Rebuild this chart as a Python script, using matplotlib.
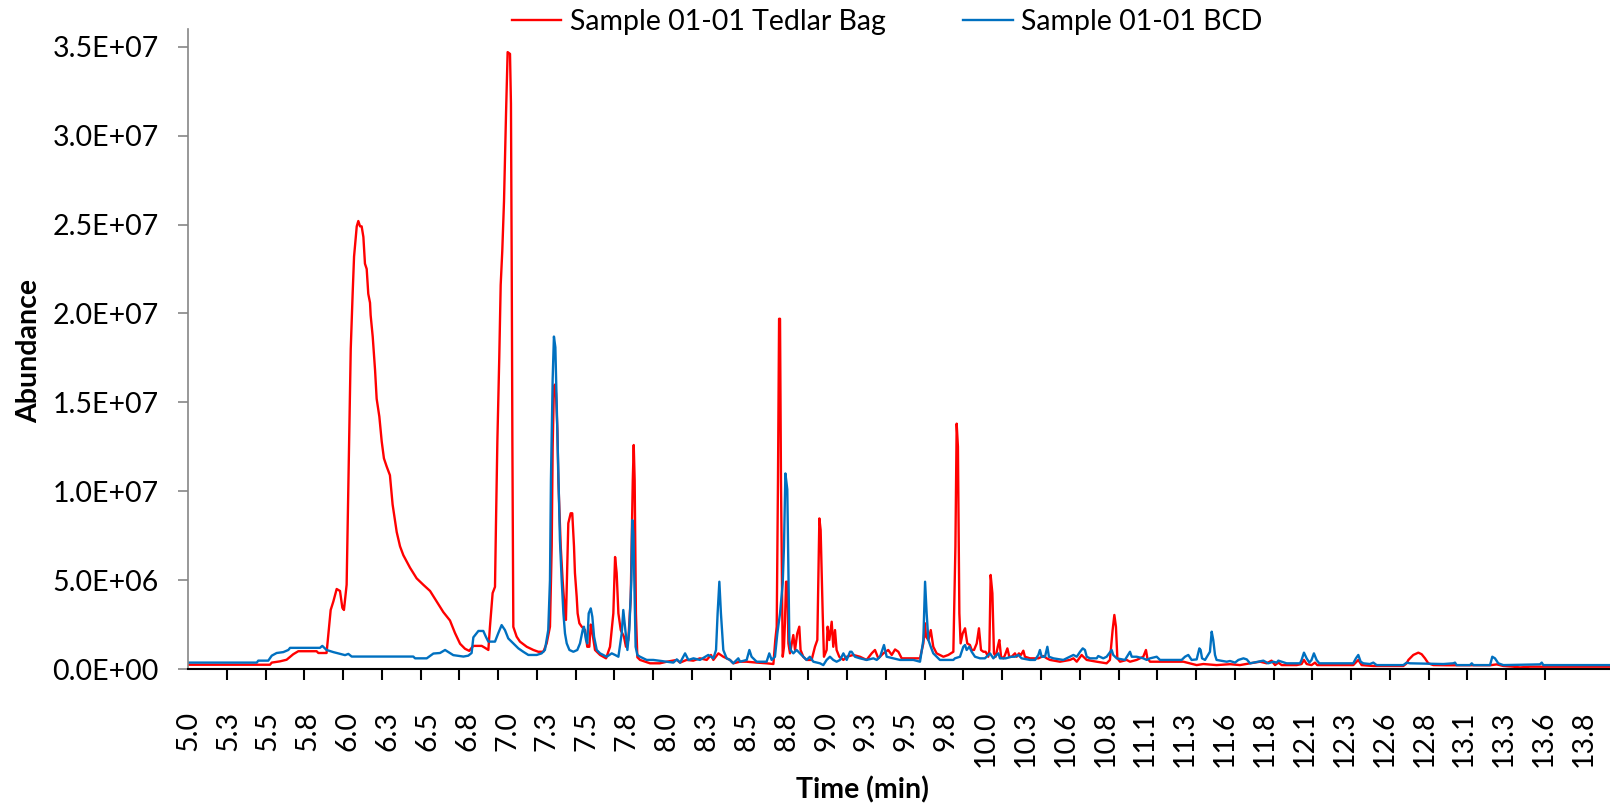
import matplotlib
matplotlib.use("Agg")
import matplotlib.pyplot as plt
from matplotlib.ticker import FixedLocator, FuncFormatter, NullFormatter
import numpy as np

plt.rcParams['font.family'] = ['Lato', 'DejaVu Sans']

# ---------------- data (time in min, abundance in millions) ----------------
red_time = [5.000, 5.519, 5.530, 5.582, 5.624, 5.666, 5.698, 5.814, 5.825, 5.877,
            5.903, 5.920, 5.941, 5.962, 5.977, 5.987, 6.004, 6.015, 6.030, 6.042,
            6.051, 6.068, 6.078, 6.089, 6.099, 6.110, 6.120, 6.131, 6.141, 6.152,
            6.156, 6.169, 6.184, 6.194, 6.211, 6.226, 6.240, 6.257, 6.278, 6.295,
            6.321, 6.342, 6.363, 6.405, 6.447, 6.489, 6.532, 6.574, 6.616, 6.658,
            6.690, 6.722, 6.753, 6.780, 6.795, 6.806, 6.859, 6.880, 6.901, 6.911,
            6.928, 6.943, 6.949, 6.958, 6.970, 6.979, 6.989, 7.000, 7.013, 7.023,
            7.038, 7.044, 7.049, 7.053, 7.059, 7.080, 7.101, 7.144, 7.186, 7.217,
            7.249, 7.270, 7.291, 7.302, 7.308, 7.316, 7.323, 7.329, 7.338, 7.344,
            7.359, 7.371, 7.386, 7.392, 7.407, 7.422, 7.432, 7.443, 7.449, 7.460,
            7.466, 7.477, 7.492, 7.513, 7.527, 7.540, 7.549, 7.560, 7.576, 7.608,
            7.646, 7.671, 7.692, 7.703, 7.713, 7.724, 7.739, 7.759, 7.772, 7.787,
            7.802, 7.815, 7.821, 7.827, 7.835, 7.844, 7.861, 7.924, 7.987, 8.030,
            8.094, 8.114, 8.156, 8.198, 8.240, 8.283, 8.310, 8.325, 8.357, 8.388,
            8.430, 8.451, 8.494, 8.536, 8.599, 8.662, 8.705, 8.717, 8.726, 8.734,
            8.741, 8.747, 8.753, 8.764, 8.772, 8.778, 8.785, 8.793, 8.800, 8.810,
            8.831, 8.842, 8.856, 8.869, 8.877, 8.894, 8.915, 8.947, 8.968, 8.983,
            8.996, 9.004, 9.017, 9.025, 9.042, 9.048, 9.059, 9.074, 9.084, 9.095,
            9.105, 9.122, 9.148, 9.169, 9.211, 9.253, 9.295, 9.327, 9.348, 9.369,
            9.401, 9.432, 9.454, 9.475, 9.496, 9.517, 9.591, 9.633, 9.654, 9.665,
            9.671, 9.686, 9.701, 9.717, 9.738, 9.781, 9.812, 9.844, 9.857, 9.865,
            9.873, 9.882, 9.890, 9.903, 9.918, 9.932, 9.949, 9.960, 9.975, 9.992,
            10.006, 10.019, 10.034, 10.048, 10.065, 10.072, 10.080, 10.091, 10.101, 10.112,
            10.125, 10.135, 10.146, 10.161, 10.171, 10.186, 10.198, 10.213, 10.234, 10.245,
            10.259, 10.272, 10.287, 10.297, 10.329, 10.382, 10.414, 10.435, 10.456, 10.519,
            10.582, 10.604, 10.625, 10.656, 10.667, 10.688, 10.751, 10.814, 10.835, 10.852,
            10.863, 10.873, 10.882, 10.899, 10.941, 10.962, 11.004, 11.046, 11.063, 11.072,
            11.089, 11.131, 11.194, 11.300, 11.384, 11.426, 11.510, 11.595, 11.658, 11.722,
            11.785, 11.827, 11.858, 11.880, 11.901, 11.922, 12.017, 12.048, 12.063, 12.080,
            12.111, 12.133, 12.147, 12.228, 12.375, 12.407, 12.428, 12.502, 12.692, 12.713,
            12.724, 12.755, 12.787, 12.808, 12.829, 12.850, 12.882, 12.966, 13.114, 13.241,
            13.283, 13.325, 13.388, 13.431, 13.494, 13.578, 14.000]
red_abund = [0.24, 0.24, 0.36, 0.43, 0.52, 0.83, 1.00, 1.00, 0.90, 0.90,
             3.32, 3.80, 4.50, 4.39, 3.44, 3.32, 4.74, 10.4, 18.0, 21.1,
             23.2, 24.9, 25.2, 24.9, 24.9, 24.3, 22.8, 22.5, 21.1, 20.6,
             19.9, 18.7, 16.8, 15.2, 14.2, 12.8, 11.85, 11.4, 10.9, 9.25,
             7.7, 6.9, 6.4, 5.7, 5.1, 4.74, 4.39, 3.8, 3.2, 2.73,
             2.02, 1.42, 1.14, 1.02, 1.19, 1.30, 1.30, 1.19, 1.07, 2.37,
             4.27, 4.62, 8.06, 12.8, 17.5, 21.6, 23.5, 26.3, 31.3, 34.7,
             34.6, 31.8, 22.3, 12.8, 2.37, 1.82, 1.54, 1.25, 1.07, 0.97,
             0.97, 1.44, 2.38, 6.9, 12.5, 15.9, 16.0, 15.5, 13.4, 10.6,
             6.9, 5.0, 3.13, 2.76, 8.2, 8.76, 8.76, 6.9, 5.4, 4.07,
             3.13, 2.57, 2.38, 2.19, 1.25, 1.25, 2.5, 2.0, 1.07, 0.79,
             0.60, 1.25, 3.13, 6.3, 5.4, 3.13, 2.19, 1.82, 1.25, 1.63,
             4.0, 10.6, 12.6, 10.6, 3.13, 0.66, 0.51, 0.32, 0.32, 0.41,
             0.51, 0.36, 0.51, 0.47, 0.60, 0.51, 0.79, 0.51, 0.88, 0.69,
             0.51, 0.32, 0.41, 0.41, 0.36, 0.32, 0.28, 1.63, 2.38, 10.6,
             19.7, 19.7, 10.6, 0.69, 1.25, 2.57, 4.91, 4.91, 1.44, 0.88,
             1.91, 1.07, 2.0, 2.38, 1.07, 0.69, 0.51, 0.51, 1.25, 1.63,
             8.47, 7.82, 3.13, 0.69, 1.07, 2.38, 1.63, 2.66, 1.25, 2.19,
             1.07, 0.69, 0.51, 0.69, 0.79, 0.69, 0.51, 0.88, 1.07, 0.60,
             0.88, 1.07, 0.79, 1.10, 0.97, 0.60, 0.60, 0.60, 1.44, 2.57,
             1.82, 1.63, 2.19, 1.25, 0.88, 0.69, 0.79, 0.97, 6.88, 13.8,
             12.5, 3.13, 1.44, 2.0, 2.29, 1.44, 1.35, 1.07, 1.07, 1.44,
             2.29, 1.07, 0.97, 0.97, 0.69, 1.07, 5.29, 4.26, 0.88, 0.69,
             1.25, 1.63, 0.69, 0.60, 0.79, 1.16, 0.69, 0.69, 0.88, 0.69,
             0.88, 0.79, 1.03, 0.69, 0.60, 0.60, 0.73, 0.60, 0.51, 0.41,
             0.51, 0.60, 0.41, 0.79, 0.69, 0.51, 0.41, 0.32, 0.51, 2.19,
             3.04, 2.38, 0.60, 0.41, 0.51, 0.41, 0.51, 0.69, 1.07, 0.60,
             0.41, 0.41, 0.41, 0.41, 0.22, 0.28, 0.22, 0.27, 0.22, 0.32,
             0.41, 0.32, 0.47, 0.22, 0.36, 0.22, 0.22, 0.28, 0.51, 0.28,
             0.22, 0.36, 0.22, 0.22, 0.22, 0.51, 0.22, 0.17, 0.17, 0.32,
             0.51, 0.79, 0.92, 0.83, 0.60, 0.32, 0.22, 0.21, 0.21, 0.21,
             0.26, 0.17, 0.13, 0.09, 0.13, 0.13, 0.13]

blue_time = [5.000, 5.435, 5.445, 5.508, 5.530, 5.561, 5.603, 5.635, 5.646, 5.835,
             5.850, 5.877, 5.920, 5.962, 5.994, 6.015, 6.036, 6.215, 6.426, 6.437,
             6.511, 6.553, 6.595, 6.627, 6.648, 6.679, 6.743, 6.774, 6.795, 6.806,
             6.838, 6.869, 6.886, 6.901, 6.943, 6.964, 6.985, 7.006, 7.027, 7.059,
             7.091, 7.122, 7.154, 7.207, 7.238, 7.259, 7.280, 7.291, 7.297, 7.308,
             7.316, 7.325, 7.338, 7.346, 7.354, 7.365, 7.376, 7.386, 7.397, 7.414,
             7.439, 7.464, 7.481, 7.498, 7.506, 7.519, 7.527, 7.536, 7.549, 7.559,
             7.570, 7.587, 7.608, 7.650, 7.682, 7.703, 7.724, 7.745, 7.755, 7.766,
             7.781, 7.793, 7.806, 7.812, 7.819, 7.825, 7.833, 7.844, 7.861, 7.903,
             7.945, 8.030, 8.072, 8.094, 8.115, 8.146, 8.167, 8.199, 8.240, 8.293,
             8.325, 8.342, 8.352, 8.363, 8.373, 8.388, 8.409, 8.430, 8.451, 8.483,
             8.494, 8.536, 8.553, 8.567, 8.599, 8.662, 8.679, 8.694, 8.715, 8.730,
             8.747, 8.764, 8.772, 8.781, 8.793, 8.806, 8.814, 8.831, 8.852, 8.873,
             8.894, 8.915, 8.936, 8.958, 9.000, 9.021, 9.042, 9.063, 9.084, 9.105,
             9.127, 9.148, 9.169, 9.190, 9.200, 9.221, 9.253, 9.295, 9.338, 9.359,
             9.380, 9.405, 9.422, 9.464, 9.506, 9.591, 9.633, 9.654, 9.665, 9.675,
             9.686, 9.701, 9.717, 9.759, 9.802, 9.844, 9.854, 9.886, 9.907, 9.918,
             9.928, 9.945, 9.960, 9.981, 10.013, 10.044, 10.065, 10.076, 10.097, 10.118,
             10.129, 10.139, 10.175, 10.213, 10.234, 10.255, 10.276, 10.329, 10.361, 10.382,
             10.392, 10.403, 10.424, 10.439, 10.449, 10.477, 10.540, 10.582, 10.604, 10.625,
             10.646, 10.663, 10.677, 10.688, 10.709, 10.751, 10.761, 10.793, 10.814, 10.846,
             10.856, 10.878, 10.930, 10.962, 10.973, 11.004, 11.046, 11.068, 11.089, 11.131,
             11.152, 11.289, 11.310, 11.331, 11.352, 11.384, 11.401, 11.409, 11.418, 11.437,
             11.468, 11.479, 11.489, 11.500, 11.510, 11.574, 11.595, 11.627, 11.648, 11.680,
             11.701, 11.722, 11.774, 11.806, 11.837, 11.869, 11.890, 11.901, 11.922, 11.953,
             12.038, 12.048, 12.063, 12.080, 12.097, 12.111, 12.126, 12.143, 12.160, 12.375,
             12.392, 12.407, 12.422, 12.439, 12.481, 12.502, 12.523, 12.692, 12.713, 12.734,
             12.945, 13.008, 13.019, 13.029, 13.114, 13.125, 13.135, 13.241, 13.255, 13.272,
             13.293, 13.325, 13.557, 13.568, 13.578, 14.000]
blue_abund = [0.36, 0.36, 0.47, 0.47, 0.75, 0.90, 0.95, 1.07, 1.19, 1.19,
              1.30, 1.07, 0.95, 0.85, 0.78, 0.85, 0.70, 0.70, 0.70, 0.60,
              0.60, 0.87, 0.90, 1.07, 0.95, 0.78, 0.70, 0.75, 0.90, 1.78,
              2.14, 2.14, 1.80, 1.54, 1.54, 2.02, 2.47, 2.19, 1.72, 1.44,
              1.16, 0.97, 0.79, 0.79, 0.88, 1.07, 2.19, 5.0, 10.6, 16.3,
              18.7, 18.1, 13.4, 10.3, 7.26, 5.0, 3.13, 2.0, 1.44, 1.07,
              0.97, 1.07, 1.44, 2.19, 2.38, 1.63, 1.44, 3.13, 3.41, 2.94,
              1.82, 1.07, 0.88, 0.69, 0.88, 0.79, 0.69, 2.0, 3.32, 2.38,
              1.07, 2.19, 5.0, 8.38, 7.63, 5.0, 1.25, 0.79, 0.69, 0.51,
              0.51, 0.41, 0.36, 0.54, 0.36, 0.88, 0.51, 0.60, 0.51, 0.79,
              0.60, 1.07, 3.13, 4.91, 3.13, 1.07, 0.60, 0.51, 0.32, 0.60,
              0.41, 0.51, 1.07, 0.69, 0.41, 0.41, 0.88, 0.51, 0.69, 2.0,
              3.13, 4.82, 6.88, 11.0, 10.1, 1.63, 1.07, 0.88, 1.07, 0.88,
              0.69, 0.51, 0.69, 0.41, 0.32, 0.22, 0.51, 0.69, 0.51, 0.41,
              0.51, 0.88, 0.51, 0.97, 0.97, 0.69, 0.60, 0.51, 0.60, 0.51,
              0.69, 1.35, 0.69, 0.60, 0.51, 0.51, 0.41, 1.63, 4.91, 3.13,
              1.63, 1.25, 0.88, 0.51, 0.51, 0.51, 0.60, 0.69, 1.25, 1.35,
              1.07, 1.25, 0.97, 0.69, 0.60, 0.60, 0.79, 0.88, 0.60, 0.79,
              0.88, 0.60, 0.60, 0.69, 0.69, 0.79, 0.60, 0.51, 0.51, 0.79,
              1.07, 0.69, 0.69, 1.25, 0.69, 0.60, 0.51, 0.69, 0.79, 0.69,
              0.97, 1.16, 1.07, 0.69, 0.60, 0.60, 0.73, 0.60, 0.69, 1.07,
              0.79, 0.60, 0.51, 0.97, 0.69, 0.69, 0.60, 0.51, 0.60, 0.69,
              0.51, 0.51, 0.69, 0.79, 0.51, 0.54, 1.16, 1.07, 0.60, 0.51,
              0.97, 2.10, 1.63, 0.79, 0.51, 0.41, 0.45, 0.36, 0.51, 0.60,
              0.54, 0.32, 0.41, 0.47, 0.32, 0.41, 0.36, 0.47, 0.41, 0.32,
              0.32, 0.51, 0.92, 0.60, 0.36, 0.51, 0.88, 0.51, 0.32, 0.32,
              0.60, 0.79, 0.41, 0.32, 0.28, 0.36, 0.22, 0.22, 0.36, 0.32,
              0.28, 0.32, 0.36, 0.22, 0.22, 0.32, 0.22, 0.22, 0.69, 0.60,
              0.32, 0.22, 0.26, 0.36, 0.22, 0.22]

series_names = ["Sample 01-01 Tedlar Bag", "Sample 01-01 BCD"]
series_colors = ["#FF0000", "#0070C0"]

x_tick_labels = ["5.0", "5.3", "5.5", "5.8", "6.0", "6.3", "6.5", "6.8", "7.0", "7.3",
                 "7.5", "7.8", "8.0", "8.3", "8.5", "8.8", "9.0", "9.3", "9.5", "9.8",
                 "10.0", "10.3", "10.6", "10.8", "11.1", "11.3", "11.6", "11.8", "12.1", "12.3",
                 "12.6", "12.8", "13.1", "13.3", "13.6", "13.8"]
label_start = 5.0
label_step = 0.2524
y_ticks = [0, 5e6, 1e7, 1.5e7, 2e7, 2.5e7, 3e7, 3.5e7]

# ---------------- figure ----------------
W, H = 1610, 807
fig = plt.figure(figsize=(W / 100, H / 100), dpi=100)
ax = fig.add_axes([188 / W, 1 - 669 / H, 1 - 188 / W, (669 - 29) / H])

ax.plot(red_time, np.array(red_abund) * 1e6, color=series_colors[0], lw=1.7,
        label=series_names[0], solid_joinstyle='round')
ax.plot(blue_time, np.array(blue_abund) * 1e6, color=series_colors[1], lw=1.7,
        label=series_names[1], solid_joinstyle='round')

ax.set_xlim(5.0, 14.0)
ax.set_ylim(0, 3.6e7)

for s in ['top', 'right']:
    ax.spines[s].set_visible(False)
ax.spines['left'].set_color('#868686')
ax.spines['left'].set_linewidth(1.2)
ax.spines['bottom'].set_color('black')
ax.spines['bottom'].set_linewidth(1.5)

# y axis
ax.yaxis.set_major_locator(FixedLocator(y_ticks))
ax.yaxis.set_major_formatter(FuncFormatter(lambda v, p: "%.1E" % v))
ax.tick_params(axis='y', which='major', direction='out', length=7, width=1.2,
               color='#868686', labelsize=20.5, pad=14, labelcolor='black')

# x axis: labels at category positions, tick marks separately
n_lab = len(x_tick_labels)
label_pos = [label_start + i * label_step for i in range(n_lab)]
last = label_pos[-1]
tick_pos = list(np.linspace(label_start, last, n_lab + 1))
ax.xaxis.set_major_locator(FixedLocator(label_pos))
ax.set_xticklabels(x_tick_labels, rotation=90)
ax.xaxis.set_minor_locator(FixedLocator(tick_pos))
ax.xaxis.set_minor_formatter(NullFormatter())
ax.tick_params(axis='x', which='major', length=0, labelsize=20.5, pad=30)
ax.tick_params(axis='x', which='minor', direction='out', length=8, width=1.5, color='black')

fig.text(29 / W, 1 - 351 / H, "Abundance", rotation=90, ha='center', va='center',
         fontsize=20.5, fontweight='bold')
fig.text(862 / W, 1 - 790 / H, "Time (min)", ha='center', va='center',
         fontsize=20.5, fontweight='bold')

fig.legend(loc='center', bbox_to_anchor=(887 / W, 1 - 22 / H), ncol=2, frameon=False,
           fontsize=20.5, handlelength=1.75, handletextpad=0.3, columnspacing=2.7)

fig.savefig("out.png", dpi=100)
